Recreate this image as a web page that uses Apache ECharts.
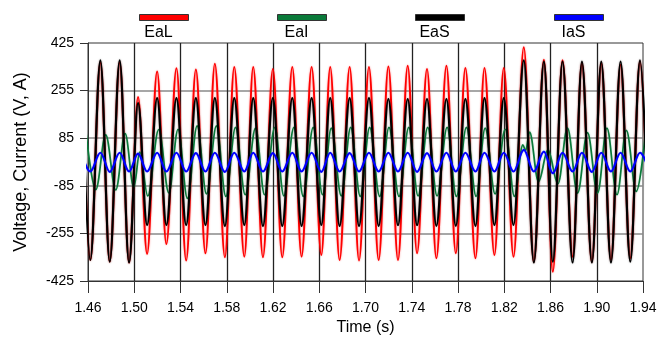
<!DOCTYPE html>
<html><head><meta charset="utf-8">
<script src="https://cdn.jsdelivr.net/npm/echarts@6/dist/echarts.min.js"></script>
<style>html,body{margin:0;padding:0;background:#fff}#c{width:667px;height:344px}</style>
</head><body><div id="c"></div>
<script>
// ---- data (times in s, values in V / A) ----
const seriesNames = ['EaL', 'EaI', 'EaS', 'IaS'];
const xTickLabels = ['1.46','1.50','1.54','1.58','1.62','1.66','1.70','1.74','1.78','1.82','1.86','1.90','1.94'];
const yTickLabels = ['-425','-255','-85','85','255','425'];

// extrema times shared by EaL, EaS, IaS (peaks / troughs)
const tExt = [1.4541,1.4620,1.4707,1.4788,1.4874,1.4955,1.5033,1.5111,1.5198,1.5278,
  1.5365,1.5449,1.5533,1.5616,1.5697,1.5784,1.5865,1.5952,1.6029,1.6113,
  1.6199,1.6280,1.6367,1.6447,1.6534,1.6618,1.6695,1.6776,1.6863,1.6944,
  1.7030,1.7114,1.7198,1.7281,1.7365,1.7446,1.7532,1.7613,1.7700,1.7781,
  1.7864,1.7951,1.8029,1.8115,1.8196,1.8280,1.8369,1.8456,1.8543,1.8620,
  1.8704,1.8791,1.8872,1.8958,1.9039,1.9123,1.9206,1.9290,1.9374,1.9457];
const EaL = [356,-350,356,-356,356,-359,232,-328,323,-293,
  335,-352,330,-326,351,-340,339,-338,339,-340,
  332,-340,339,-338,339,-332,339,-350,339,-352,
  339,-350,341,-350,344,-326,332,-344,344,-326,
  336,-344,336,-332,336,-338,410,-356,365,-392,
  363,-338,353,-356,353,-350,347,-344,359,-350];
const EaS = [363,-350,363,-356,363,-359,210,-225,228,-225,
  228,-225,228,-225,228,-228,228,-225,228,-228,
  228,-228,228,-228,228,-225,228,-228,228,-228,
  228,-228,225,-225,225,-225,225,-228,225,-228,
  225,-228,228,-225,228,-225,363,-359,359,-356,
  359,-359,359,-359,359,-359,359,-356,363,-356];
const IaS = [33,-34,33,-35,33,-34,30,-34,33,-34,
  33,-34,32,-34,33,-35,33,-34,33,-34,
  32,-34,33,-34,33,-35,33,-34,32,-34,
  33,-34,33,-34,33,-35,32,-34,33,-34,
  33,-34,33,-34,33,-34,43,-34,37,-40,
  33,-34,33,-35,33,-34,33,-34,33,-34];

// extrema times and values of EaI
const tEaI = [1.4584,1.4667,1.4753,1.4840,1.4921,1.4996,1.5048,1.5117,1.5212,1.5299,
  1.5379,1.5460,1.5544,1.5625,1.5711,1.5792,1.5876,1.5960,1.6049,1.6127,
  1.6216,1.6294,1.6381,1.6462,1.6548,1.6629,1.6704,1.6791,1.6872,1.6955,
  1.7036,1.7123,1.7203,1.7290,1.7374,1.7455,1.7538,1.7619,1.7706,1.7786,
  1.7873,1.7957,1.8035,1.8121,1.8208,1.8288,1.8361,1.8385,1.8419,1.8496,
  1.8578,1.8664,1.8747,1.8834,1.8920,1.9007,1.9088,1.9175,1.9256,1.9342,1.9425];
const EaI = [100,-99,97,-100,101,-90,35,-121,116,-110,
  117,-130,129,-114,129,-123,124,-117,121,-117,
  124,-121,124,-123,124,-117,121,-121,124,-123,
  124,-123,124,-123,124,-121,124,-121,124,-123,
  124,-123,121,-114,117,-123,61,40,107,-70,
  43,-78,121,-111,105,-111,121,-117,113,-105,115];

// ---- chart ----
const FONT = '"Liberation Sans", Arial, sans-serif';
const colors = {EaL: '#ff0000', EaI: '#0a7a3a', EaS: '#000000', IaS: '#0000ff'};
const halos = {EaL: 'rgba(255,0,0,0.45)', EaI: 'rgba(10,122,58,0.3)', EaS: 'rgba(0,0,0,0.4)', IaS: 'rgba(0,0,255,0.2)'};
const pairs = (ts, vs) => ts.map((t, i) => [t, vs[i]]);
const dataBy = {
  EaL: pairs(tExt, EaL), EaI: pairs(tEaI, EaI), EaS: pairs(tExt, EaS), IaS: pairs(tExt, IaS)
};
const widths = {EaL: 2, EaI: 1.7, EaS: 2.2, IaS: 2.2};

const legendLeft = [134, 272, 410, 549];
const legends = seriesNames.map((n, i) => ({
  data: [n], left: legendLeft[i], top: 9, itemWidth: 49, itemHeight: 6, icon: 'rect',
  itemStyle: {borderColor: '#333', borderWidth: 1}, formatter: () => '', selectedMode: false,
  textStyle: {fontSize: 1}
}));
const legendText = seriesNames.map((n, i) => ({
  type: 'text', x: legendLeft[i] + 24.5, y: 25,
  style: {text: n, font: '16px ' + FONT, fill: '#000', textAlign: 'center'}
}));

const chart = echarts.init(document.getElementById('c'), null, {renderer: 'canvas'});
chart.setOption({
  animation: false,
  backgroundColor: '#fff',
  legend: legends,
  graphic: legendText,
  grid: {left: 88, right: 24, top: 43, bottom: 63, show: true, borderColor: '#333', borderWidth: 1},
  xAxis: {
    type: 'value', min: 1.46, max: 1.94, interval: 0.04,
    name: 'Time (s)', nameLocation: 'middle', nameGap: 38,
    nameTextStyle: {fontSize: 16, fontFamily: FONT, color: '#000'},
    axisLine: {show: true, onZero: false, lineStyle: {color: '#333', width: 1}},
    axisTick: {show: true, inside: false, length: 12, lineStyle: {color: '#333', width: 1}},
    axisLabel: {fontSize: 14, fontFamily: FONT, color: '#000', margin: 20,
      formatter: v => xTickLabels[Math.round((v - 1.46) / 0.04)]},
    splitLine: {show: true, showMinLine: false, showMaxLine: false, lineStyle: {color: '#222', width: 1.3}}
  },
  yAxis: {
    type: 'value', min: -425, max: 425, interval: 170,
    name: 'Voltage, Current (V, A)', nameLocation: 'middle', nameGap: 58, nameRotate: 90,
    nameTextStyle: {fontSize: 18, fontFamily: FONT, color: '#000'},
    axisLine: {show: true, onZero: false, lineStyle: {color: '#333', width: 1}},
    axisTick: {show: true, inside: false, length: 8, lineStyle: {color: '#333', width: 1}},
    axisLabel: {fontSize: 14, fontFamily: FONT, color: '#000', margin: 14,
      formatter: v => yTickLabels[Math.round((v + 425) / 170)]},
    splitLine: {show: true, showMinLine: false, showMaxLine: false, lineStyle: {color: '#8a8a8a', width: 1.5}}
  },
  series: seriesNames.map(n => ({
    name: n, type: 'line', data: dataBy[n], showSymbol: false, symbol: 'none',
    smooth: 0.36, smoothMonotone: 'x', clip: true, sampling: null,
    color: colors[n],
    lineStyle: {color: colors[n], width: widths[n], shadowBlur: 2, shadowColor: halos[n]}
  }))
});
</script></body></html>
